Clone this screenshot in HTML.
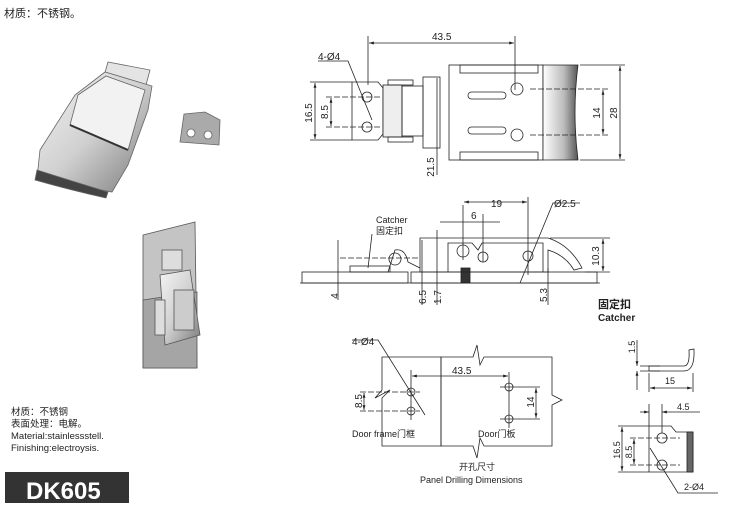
<!DOCTYPE html>
<html><head><meta charset="utf-8"><style>
body{margin:0;background:#fff;width:743px;height:532px;overflow:hidden}
svg{display:block}
text{font-family:"Liberation Sans","Noto Sans CJK SC",sans-serif;fill:#222}
</style></head><body>
<svg width="743" height="532" viewBox="0 0 743 532" xmlns="http://www.w3.org/2000/svg">
<defs>
<linearGradient id="met" x1="0" y1="0" x2="1" y2="1"><stop offset="0" stop-color="#f4f4f4"/><stop offset="0.5" stop-color="#d0d0d0"/><stop offset="1" stop-color="#7a7a7a"/></linearGradient>
<linearGradient id="hd" x1="0" y1="0" x2="1" y2="0"><stop offset="0" stop-color="#fff"/><stop offset="0.6" stop-color="#bbb"/><stop offset="1" stop-color="#555"/></linearGradient>
<marker id="a" viewBox="0 0 10 10" refX="10" refY="5" markerWidth="6" markerHeight="6" orient="auto-start-reverse"><path d="M0,2 L10,5 L0,8z" fill="#222"/></marker>
</defs>
<text x="4" y="17" font-size="11">材质：不锈钢。</text>

<!-- photo 1 -->
<g stroke="#666" stroke-width="0.8">
<path d="M108,62 L150,70 L146,85 L104,76z" fill="#e4e4e4"/>
<path d="M40,150 L75,95 L105,72 L152,86 L148,110 L128,165 L112,192 L70,184 L37,178z" fill="url(#met)"/>
<path d="M78,95 L106,76 L145,90 L128,150 L70,125z" fill="#f2f2f2"/>
<path d="M70,125 L128,150" stroke="#333" stroke-width="2"/>
<path d="M37,170 Q75,182 108,192 L106,198 Q70,190 35,180z" fill="#444"/>
<path d="M184,114 L205,112 L220,120 L219,145 L180,142z" fill="#aaa"/>
<circle cx="191" cy="133" r="4" fill="#fff"/><circle cx="208" cy="135" r="4" fill="#fff"/>
</g>
<!-- photo 2 -->
<g stroke="#555" stroke-width="0.8">
<path d="M143,235 L195,222 L197,368 L143,368z" fill="#c4c4c4"/>
<path d="M143,300 L197,292 L197,368 L143,368z" fill="#a5a5a5"/>
<rect x="162" y="250" width="20" height="20" fill="#ddd"/>
<path d="M160,275 L190,270 L200,335 L165,345z" fill="url(#met)"/>
<rect x="174" y="290" width="20" height="40" fill="#ccc"/>
<rect x="155" y="300" width="10" height="35" fill="#ddd"/>
</g>

<g fill="none" stroke="#222" stroke-width="0.8">
<line x1="368" y1="36" x2="368" y2="85"/><line x1="515" y1="36" x2="515" y2="90"/>
<line x1="369" y1="43" x2="514" y2="43" marker-start="url(#a)" marker-end="url(#a)"/>
<path d="M352,82 L378,82 L383,88 L383,134 L378,140 L352,140z"/>
<circle cx="367" cy="97" r="5"/><circle cx="367" cy="127" r="5"/>
<rect x="383" y="85" width="19" height="52" fill="#eee"/>
<rect x="388" y="80" width="25" height="5"/><rect x="388" y="137" width="25" height="5"/>
<rect x="402" y="86" width="21" height="50"/>
<rect x="423" y="77" width="17" height="71"/>
<rect x="449" y="65" width="94" height="95"/>
<rect x="460" y="65" width="78" height="8"/><rect x="460" y="152" width="78" height="8"/>
<rect x="468" y="92" width="38" height="7" rx="3.5"/><rect x="468" y="127" width="38" height="7" rx="3.5"/>
<circle cx="517" cy="89" r="6"/><circle cx="517" cy="135" r="6"/>
<path d="M543,65 L578,65 Q572,112 578,160 L543,160z" fill="url(#hd)"/>
<line x1="580" y1="65" x2="625" y2="65"/><line x1="580" y1="160" x2="625" y2="160"/>
<line x1="530" y1="89" x2="608" y2="89" stroke-dasharray="6 2"/><line x1="530" y1="135" x2="608" y2="135" stroke-dasharray="6 2"/>
<line x1="603" y1="90" x2="603" y2="134" marker-start="url(#a)" marker-end="url(#a)"/>
<line x1="620" y1="66" x2="620" y2="159" marker-start="url(#a)" marker-end="url(#a)"/>
<line x1="310" y1="82" x2="352" y2="82"/><line x1="310" y1="140" x2="352" y2="140"/>
<line x1="326" y1="97" x2="380" y2="97" stroke-dasharray="6 2"/><line x1="326" y1="127" x2="380" y2="127" stroke-dasharray="6 2"/>
<line x1="315" y1="83" x2="315" y2="139" marker-start="url(#a)" marker-end="url(#a)"/>
<line x1="331" y1="98" x2="331" y2="126" marker-start="url(#a)" marker-end="url(#a)"/>
<line x1="437" y1="78" x2="437" y2="175"/>
<path d="M318,61 L348,61 L372,120"/>

<rect x="302" y="272" width="106" height="11"/><rect x="411" y="272" width="186" height="11"/>
<rect x="461" y="268" width="9" height="15" fill="#333"/>
<rect x="350" y="266" width="40" height="6"/>
<path d="M388,272 L395,250 Q405,248 408,262 L420,268"/>
<circle cx="395" cy="259" r="6"/>
<path d="M420,272 L420,238 L548,238 Q570,245 582,268 L574,270 Q565,255 548,250 L548,272z"/>
<path d="M448,272 L448,243 L472,243 L478,250 L482,243 L543,243 L543,272"/>
<circle cx="463" cy="251" r="6"/><circle cx="483" cy="257" r="5"/><circle cx="528" cy="256" r="5"/>
<line x1="340" y1="258" x2="420" y2="258" stroke-dasharray="6 2"/>
<line x1="463" y1="205" x2="463" y2="260"/><line x1="528" y1="197" x2="528" y2="275"/>
<line x1="464" y1="202" x2="527" y2="202" marker-start="url(#a)" marker-end="url(#a)"/>
<line x1="483" y1="214" x2="483" y2="262"/>
<line x1="440" y1="222" x2="500" y2="222"/>
<line x1="338" y1="240" x2="338" y2="300"/><line x1="422" y1="240" x2="422" y2="305"/><line x1="437" y1="230" x2="437" y2="305"/>
<line x1="548" y1="268" x2="548" y2="305"/>
<line x1="550" y1="238" x2="610" y2="238"/><line x1="585" y1="272" x2="610" y2="272"/>
<line x1="603" y1="239" x2="603" y2="271" marker-start="url(#a)" marker-end="url(#a)"/>
<path d="M580,203 L553,203 L520,283"/>
<path d="M372,234 L368,268"/>
<line x1="300" y1="283" x2="600" y2="283"/>

<path d="M382,357 L441,357 L441,446 L382,446 L382,398 L390,390 L375,398 L382,390z"/>
<path d="M441,357 L473,357 L477,345 L480,365 L484,357 L552,357 L552,395 L562,400 L552,405 L552,446 L484,446 L480,438 L477,458 L473,446 L441,446z"/>
<circle cx="411" cy="392" r="4"/><circle cx="411" cy="411" r="4"/>
<circle cx="509" cy="387" r="4"/><circle cx="509" cy="419" r="4"/>
<line x1="411" y1="370" x2="411" y2="420"/><line x1="509" y1="372" x2="509" y2="428"/>
<line x1="412" y1="376" x2="508" y2="376" marker-start="url(#a)" marker-end="url(#a)"/>
<line x1="360" y1="392" x2="420" y2="392" stroke-dasharray="6 2"/><line x1="360" y1="411" x2="420" y2="411" stroke-dasharray="6 2"/>
<line x1="500" y1="387" x2="540" y2="387"/><line x1="500" y1="419" x2="540" y2="419"/>
<line x1="364" y1="393" x2="364" y2="410" marker-start="url(#a)" marker-end="url(#a)"/>
<line x1="536" y1="388" x2="536" y2="418" marker-start="url(#a)" marker-end="url(#a)"/>
<path d="M352,340 L378,340 L425,415"/>

<path d="M649,366 L684,366 Q690,366 689,350 L694,349 Q695,371 684,371 L649,371z"/>
<line x1="640" y1="366" x2="660" y2="366"/><line x1="640" y1="371" x2="660" y2="371"/>
<line x1="637" y1="340" x2="637" y2="366" marker-end="url(#a)"/><line x1="637" y1="390" x2="637" y2="371" marker-end="url(#a)"/>
<line x1="649" y1="373" x2="649" y2="392"/><line x1="693" y1="373" x2="693" y2="392"/>
<line x1="650" y1="388" x2="692" y2="388" marker-start="url(#a)" marker-end="url(#a)"/>
<path d="M649,426 L671,426 L676,432 L693,432 L693,472 L649,472z"/>
<rect x="687" y="432" width="6" height="40" fill="#666"/>
<circle cx="662" cy="438" r="5"/><circle cx="662" cy="465" r="5"/>
<line x1="649" y1="404" x2="649" y2="426"/><line x1="662" y1="404" x2="662" y2="433"/>
<line x1="640" y1="412" x2="649" y2="412" marker-end="url(#a)"/><line x1="700" y1="412" x2="662" y2="412" marker-end="url(#a)"/>
<line x1="618" y1="426" x2="649" y2="426"/><line x1="618" y1="472" x2="649" y2="472"/>
<line x1="622" y1="427" x2="622" y2="471" marker-start="url(#a)" marker-end="url(#a)"/>
<line x1="630" y1="438" x2="680" y2="438" stroke-dasharray="6 2"/><line x1="630" y1="465" x2="680" y2="465" stroke-dasharray="6 2"/>
<line x1="634" y1="439" x2="634" y2="464" marker-start="url(#a)" marker-end="url(#a)"/>
<path d="M650,448 L678,493 L718,493"/>
</g>

<g font-size="10">
<text x="432" y="40">43.5</text>
<text x="318" y="60">4-Ø4</text>
<text transform="translate(312,113) rotate(-90)" text-anchor="middle">16.5</text>
<text transform="translate(328,112) rotate(-90)" text-anchor="middle">8.5</text>
<text transform="translate(600,113) rotate(-90)" text-anchor="middle">14</text>
<text transform="translate(617,113) rotate(-90)" text-anchor="middle">28</text>
<text transform="translate(434,167) rotate(-90)" text-anchor="middle">21.5</text>
<text x="491" y="207">19</text>
<text x="471" y="219">6</text>
<text x="554" y="207">Ø2.5</text>
<text x="376" y="223" font-size="9">Catcher</text>
<text x="376" y="234" font-size="9">固定扣</text>
<text transform="translate(599,256) rotate(-90)" text-anchor="middle">10.3</text>
<text transform="translate(338,296) rotate(-90)" text-anchor="middle">4</text>
<text transform="translate(426,297) rotate(-90)" text-anchor="middle">6.5</text>
<text transform="translate(441,297) rotate(-90)" text-anchor="middle">1.7</text>
<text transform="translate(547,295) rotate(-90)" text-anchor="middle">5.3</text>
<text x="598" y="308" font-weight="bold" font-size="11">固定扣</text>
<text x="598" y="321" font-weight="bold" font-size="10">Catcher</text>
<text x="352" y="345">4-Ø4</text>
<text x="452" y="374">43.5</text>
<text transform="translate(362,401) rotate(-90)" text-anchor="middle">8.5</text>
<text transform="translate(534,402) rotate(-90)" text-anchor="middle">14</text>
<text x="352" y="437" font-size="9">Door frame门框</text>
<text x="478" y="437" font-size="9">Door门板</text>
<text x="459" y="470" font-size="9">开孔尺寸</text>
<text x="420" y="483" font-size="9">Panel Drilling Dimensions</text>
<text transform="translate(635,347) rotate(-90)" text-anchor="middle" font-size="9">1.5</text>
<text x="665" y="384" font-size="9">15</text>
<text x="677" y="410" font-size="9">4.5</text>
<text transform="translate(620,450) rotate(-90)" text-anchor="middle" font-size="9">16.5</text>
<text transform="translate(632,452) rotate(-90)" text-anchor="middle" font-size="9">8.5</text>
<text x="684" y="490" font-size="9">2-Ø4</text>
</g>

<g font-size="9.5">
<text x="11" y="415">材质：不锈钢</text>
<text x="11" y="427">表面处理：电解。</text>
<text x="11" y="439">Material:stainlessstell.</text>
<text x="11" y="451">Finishing:electroysis.</text>
</g>
<rect x="5" y="472" width="124" height="31" fill="#333"/>
<text x="26" y="499" font-size="24" font-weight="bold" style="fill:#fff">DK605</text>
</svg>
</body></html>
